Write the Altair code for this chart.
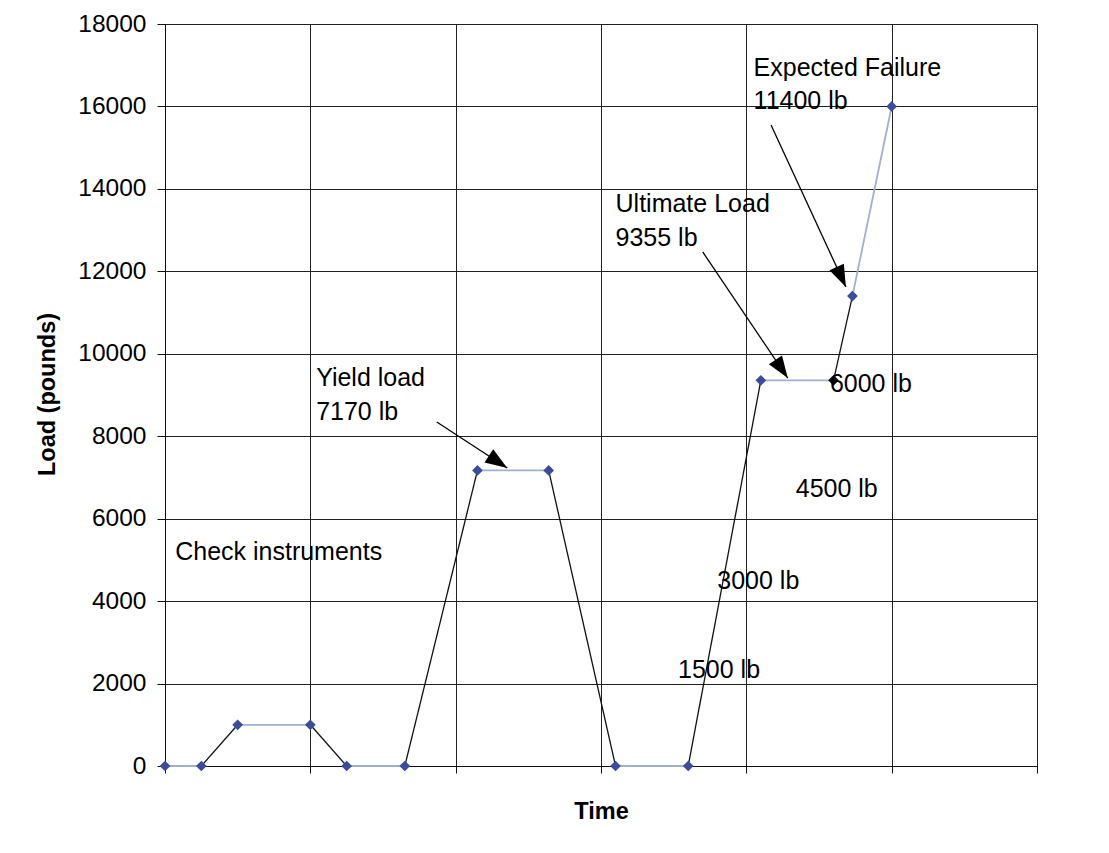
import math
import altair as alt
import pandas as pd

# ---- data ----
time_min = [0, 2.5, 5, 10, 12.5, 16.5, 21.5, 26.4, 31, 36, 41, 46, 47.3, 50]
load_lb = [0, 0, 1000, 1000, 0, 0, 7170, 7170, 0, 0, 9355, 9355, 11400, 16000]
marker_tone = ["blue"] * 11 + ["black"] + ["blue"] * 2
segment_tone = ["flat", "ramp", "flat", "ramp", "flat", "ramp", "flat",
                "ramp", "flat", "ramp", "flat", "ramp", "flat"]

label_text = ["Check instruments", "Yield load", "7170 lb", "Ultimate Load", "9355 lb",
              "Expected Failure", "11400 lb", "6000 lb", "4500 lb", "3000 lb", "1500 lb"]
label_x = [0.7, 10.4, 10.4, 31.0, 31.0, 40.5, 40.5, 45.75, 43.4, 38.0, 35.3]
label_y = [5000, 9230, 8390, 13440, 12615, 16740, 15940, 9075, 6525, 4295, 2135]

arrow_x0 = [18.7, 37.0, 41.7]
arrow_y0 = [8345, 12470, 15550]
arrow_x1 = [23.55, 42.85, 46.85]
arrow_y1 = [7230, 9410, 11620]

y_ticks = list(range(0, 18001, 2000))
x_ticks = list(range(0, 61, 10))

W, H = 872, 742
X_MAX, Y_MAX = 60, 18000
FONT = "Liberation Sans"

points = pd.DataFrame({"t": time_min, "load": load_lb, "tone": marker_tone})
segments = pd.DataFrame({
    "t": time_min[:-1], "t2": time_min[1:],
    "load": load_lb[:-1], "load2": load_lb[1:],
    "tone": segment_tone,
})
labels = pd.DataFrame({"t": label_x, "load": label_y, "text": label_text})
arrows = pd.DataFrame({"t": arrow_x0, "load": arrow_y0, "t2": arrow_x1, "load2": arrow_y1})
arrows["angle"] = [
    math.degrees(math.atan2(-(y1 - y0) * H / Y_MAX, (x1 - x0) * W / X_MAX)) % 360
    for x0, y0, x1, y1 in zip(arrow_x0, arrow_y0, arrow_x1, arrow_y1)
]

x_scale = alt.Scale(domain=[0, X_MAX], nice=False, zero=False)
y_scale = alt.Scale(domain=[0, Y_MAX], nice=False)

x_axis = alt.Axis(values=x_ticks, labels=False, tickSize=7, title="Time",
                  titleFontSize=23.5, titleFontWeight="bold", titleY=52,
                  titleBaseline="alphabetic", titleColor="black")
y_axis = alt.Axis(values=y_ticks, format="d", title="Load (pounds)", tickSize=8,
                  labelPadding=11, labelFontSize=24.5, labelColor="black",
                  titleFontSize=23.5, titleFontWeight="bold", titleX=-111, titleY=370,
                  titleBaseline="alphabetic", titleAngle=270, titleColor="black")


def X(field):
    return alt.X(field, scale=x_scale, axis=x_axis, title="Time")


def Y(field):
    return alt.Y(field, scale=y_scale, axis=y_axis, title="Load (pounds)")


seg = alt.Chart(segments).mark_rule().encode(
    x=X("t:Q"),
    x2="t2:Q",
    y=Y("load:Q"),
    y2="load2:Q",
    color=alt.condition(alt.datum.tone == "ramp", alt.value("#111111"), alt.value("#9fb0d2")),
    strokeWidth=alt.condition(alt.datum.tone == "ramp", alt.value(1.3), alt.value(1.8)),
)

pts = alt.Chart(points).mark_point(shape="diamond", filled=True, size=115, opacity=1).encode(
    x=X("t:Q"),
    y=Y("load:Q"),
    color=alt.condition(alt.datum.tone == "black", alt.value("#111111"), alt.value("#3c4b9c")),
)

shafts = alt.Chart(arrows).mark_rule(color="black", strokeWidth=1.3).encode(
    x=X("t:Q"), x2="t2:Q",
    y=Y("load:Q"), y2="load2:Q",
)

heads = alt.Chart(arrows).mark_point(
    shape="M0,0L-1,-0.36L-1,0.36Z", filled=True, size=1936, opacity=1, color="black"
).encode(
    x=X("t2:Q"),
    y=Y("load2:Q"),
    angle=alt.Angle("angle:Q", scale=None),
)

txt = alt.Chart(labels).mark_text(
    align="left", baseline="alphabetic", fontSize=25, font=FONT, color="black"
).encode(
    x=X("t:Q"),
    y=Y("load:Q"),
    text="text:N",
)

chart = alt.layer(seg, pts, shafts, heads, txt).properties(
    width=W, height=H,
    padding={"left": 157, "top": 16, "right": 40, "bottom": 60},
    autosize=alt.AutoSizeParams(type="none"),
).configure(font=FONT).configure_axis(
    labelFont=FONT, titleFont=FONT, grid=True, gridColor="#222222", gridWidth=1,
    domainColor="#111111", tickColor="#111111", gridOpacity=1,
).configure_view(stroke="#222222", strokeWidth=1)

chart.save("out.html", embed_options={"renderer": "svg", "actions": False})
